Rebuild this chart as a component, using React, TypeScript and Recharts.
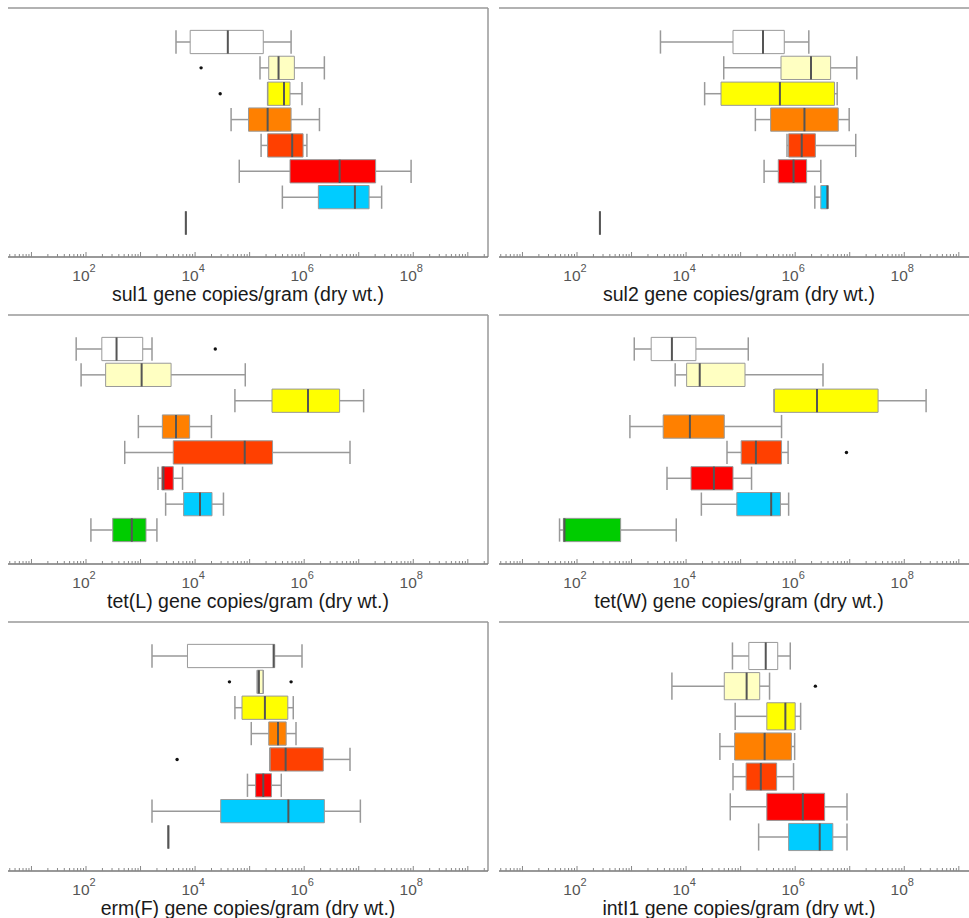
import { ComposedChart, XAxis, YAxis, ReferenceArea, ReferenceLine, Scatter } from 'recharts';

// all values are log10(gene copies / gram dry wt.)
// each row is one sample group: [min, q1, median, q3, max]
const GROUP_COLORS = ['#ffffff', '#ffffc2', '#ffff00', '#ff8000', '#ff4000', '#ff0000', '#00ccff', '#00cc00'];

const SUL1 = [
  [3.65, 3.91, 4.6, 5.25, 5.76],
  [5.19, 5.35, 5.53, 5.82, 6.37],
  [5.33, 5.33, 5.63, 5.74, 5.96],
  [4.66, 4.98, 5.33, 5.76, 6.28],
  [5.21, 5.33, 5.78, 5.98, 6.05],
  [4.81, 5.74, 6.65, 7.31, 7.96],
  [5.6, 6.26, 6.93, 7.19, 7.42],
  [3.83, 3.83, 3.83, 3.83, 3.83],
];
const SUL1_OUTLIERS = [[2, 4.11], [3, 4.46]];

const SUL2 = [
  [3.53, 4.86, 5.41, 5.8, 6.25],
  [4.69, 5.74, 6.29, 6.65, 7.13],
  [4.34, 4.64, 5.72, 6.72, 6.77],
  [5.27, 5.55, 6.17, 6.79, 6.99],
  [5.85, 5.88, 6.12, 6.37, 7.11],
  [5.43, 5.69, 5.97, 6.21, 6.47],
  [6.36, 6.47, 6.59, 6.6, 6.6],
  [2.42, 2.42, 2.42, 2.42, 2.42],
];
const SUL2_OUTLIERS: number[][] = [];

const TETL = [
  [1.82, 2.29, 2.56, 3.04, 3.21],
  [1.91, 2.36, 3.02, 3.56, 4.92],
  [4.73, 5.41, 6.07, 6.65, 7.09],
  [2.96, 3.4, 3.65, 3.9, 4.3],
  [2.71, 3.6, 4.91, 5.42, 6.84],
  [3.32, 3.39, 3.42, 3.6, 3.77],
  [3.46, 3.79, 4.09, 4.31, 4.52],
  [2.09, 2.49, 2.84, 3.1, 3.3],
];
const TETL_OUTLIERS = [[1, 4.37]];

const TETW = [
  [3.05, 3.36, 3.74, 4.18, 5.14],
  [3.8, 4.01, 4.25, 5.08, 6.51],
  [5.61, 5.62, 6.4, 7.52, 8.4],
  [2.97, 3.58, 4.07, 4.7, 5.75],
  [4.75, 5.01, 5.28, 5.75, 5.87],
  [3.65, 4.09, 4.51, 4.86, 5.2],
  [4.28, 4.93, 5.56, 5.73, 5.88],
  [1.68, 1.75, 1.77, 2.8, 3.82],
];
const TETW_OUTLIERS = [[5, 6.94]];

const ERMF = [
  [3.21, 3.86, 5.44, 5.46, 5.96],
  [5.14, 5.14, 5.17, 5.25, 5.25],
  [4.73, 4.86, 5.28, 5.7, 5.8],
  [5.03, 5.35, 5.52, 5.67, 5.85],
  [5.37, 5.37, 5.66, 6.35, 6.84],
  [4.96, 5.11, 5.25, 5.4, 5.58],
  [3.21, 4.47, 5.71, 6.37, 7.03],
  [3.51, 3.51, 3.51, 3.51, 3.51],
];
const ERMF_OUTLIERS = [[2, 4.63], [2, 5.76], [5, 3.67]];

const INTI1 = [
  [4.85, 5.15, 5.46, 5.68, 5.91],
  [3.74, 4.7, 5.11, 5.35, 5.53],
  [4.9, 5.48, 5.82, 6.0, 6.1],
  [4.62, 4.89, 5.44, 5.93, 5.99],
  [4.86, 5.1, 5.37, 5.66, 5.97],
  [4.81, 5.48, 6.14, 6.54, 6.95],
  [5.33, 5.88, 6.45, 6.69, 6.95],
];
const INTI1_OUTLIERS = [[2, 6.37]];

const LABELLED_EXPONENTS = [2, 4, 6, 8];

const X_MIN = 0.57;
const X_MAX = 9.37;
const LOG_TICKS: number[] = [];
for (let d = 0; d <= 9; d++) {
  for (let k = 1; k <= 9; k++) {
    const v = d + Math.log10(k);
    if (v >= X_MIN && v <= X_MAX) LOG_TICKS.push(v);
  }
}

const PANELS = [
  { title: 'sul1 gene copies/gram (dry wt.)', rows: SUL1, outliers: SUL1_OUTLIERS },
  { title: 'sul2 gene copies/gram (dry wt.)', rows: SUL2, outliers: SUL2_OUTLIERS },
  { title: 'tet(L) gene copies/gram (dry wt.)', rows: TETL, outliers: TETL_OUTLIERS },
  { title: 'tet(W) gene copies/gram (dry wt.)', rows: TETW, outliers: TETW_OUTLIERS },
  { title: 'erm(F) gene copies/gram (dry wt.)', rows: ERMF, outliers: ERMF_OUTLIERS },
  { title: 'intI1 gene copies/gram (dry wt.)', rows: INTI1, outliers: INTI1_OUTLIERS },
];

const FONT = '"Liberation Sans", Arial, sans-serif';
const CHART_W = 490;
const CHART_H = 307;
const PLOT_H = 249;
const EDGE_PAD = 34;
const HALF = 0.45;

function LogTick(props: any) {
  const { x, y, payload } = props;
  const v = payload.value;
  const exp = Math.round(v);
  const major = Math.abs(v - exp) < 1e-6;
  return (
    <g>
      <line x1={x} x2={x} y1={y} y2={y - (major ? 5 : 3)} stroke="#888" strokeWidth={1} />
      {major && LABELLED_EXPONENTS.includes(exp) && (
        <text x={x - 2} y={y + 24} textAnchor="middle" fill="#555" fontSize={15.5} fontFamily={FONT}>
          10<tspan dy={-9} fontSize={11}>{exp}</tspan>
        </text>
      )}
    </g>
  );
}

function BoxPanel({ title, rows, outliers }: { title: string; rows: number[][]; outliers: number[][] }) {
  const n = rows.length;
  const step = (PLOT_H - 2 * EDGE_PAD) / (n - 1);
  const pad = EDGE_PAD / step;
  const yDomain = [1 - pad, n + pad];
  const dots = outliers.map(([row, v]) => ({ x: v, y: row }));

  return (
    <ComposedChart width={CHART_W} height={CHART_H} margin={{ top: 8, right: 2, bottom: 0, left: 8 }} style={{ fontFamily: FONT }}>
      <XAxis
        type="number"
        dataKey="x"
        domain={[X_MIN, X_MAX]}
        allowDataOverflow
        ticks={LOG_TICKS}
        interval={0}
        tick={<LogTick />}
        tickLine={false}
        tickSize={0}
        tickMargin={0}
        height={50}
        axisLine={{ stroke: '#777', strokeWidth: 1.5 }}
        label={{ value: title, position: 'insideBottom', offset: 6, fill: '#1a1a1a', fontSize: 19.5, fontFamily: FONT }}
      />
      <YAxis
        type="number"
        dataKey="y"
        domain={yDomain}
        allowDataOverflow
        reversed
        ticks={[(n + 1) / 2]}
        tick={false}
        tickSize={3}
        tickLine={{ stroke: '#888' }}
        width={0}
        axisLine={{ stroke: '#999', strokeWidth: 1.5 }}
      />
      <ReferenceLine y={yDomain[0]} stroke="#999" strokeWidth={1.5} ifOverflow="visible" />
      <ReferenceLine x={X_MAX} stroke="#999" strokeWidth={1.5} ifOverflow="visible" />

      {rows.map(([min, q1, med, q3, max], i) => {
        const r = i + 1;
        return [
          <ReferenceLine key={`wl${i}`} segment={[{ x: min, y: r }, { x: q1, y: r }]} stroke="#999" strokeWidth={1.5} ifOverflow="visible" />,
          <ReferenceLine key={`wh${i}`} segment={[{ x: q3, y: r }, { x: max, y: r }]} stroke="#999" strokeWidth={1.5} ifOverflow="visible" />,
          <ReferenceLine key={`cl${i}`} segment={[{ x: min, y: r - HALF }, { x: min, y: r + HALF }]} stroke="#999" strokeWidth={1.5} ifOverflow="visible" />,
          <ReferenceLine key={`ch${i}`} segment={[{ x: max, y: r - HALF }, { x: max, y: r + HALF }]} stroke="#999" strokeWidth={1.5} ifOverflow="visible" />,
          <ReferenceArea key={`b${i}`} x1={q1} x2={q3} y1={r - HALF} y2={r + HALF} fill={GROUP_COLORS[i]} fillOpacity={1} stroke="#999" strokeWidth={1} ifOverflow="visible" />,
          <ReferenceLine key={`m${i}`} segment={[{ x: med, y: r - HALF }, { x: med, y: r + HALF }]} stroke="#555" strokeWidth={2} ifOverflow="visible" />,
        ];
      })}

      <Scatter
        data={dots}
        isAnimationActive={false}
        shape={(p: any) => <circle cx={p.cx} cy={p.cy} r={1.7} fill="#111" />}
      />
    </ComposedChart>
  );
}

export default function App() {
  return (
    <div style={{ position: 'absolute', left: 0, top: 0, width: 969, height: 918, overflow: 'hidden', background: '#fff' }}>
      {PANELS.map((p, i) => (
        <div key={p.title} style={{ position: 'absolute', left: i % 2 === 0 ? 0 : 491, top: Math.floor(i / 2) * CHART_H }}>
          <BoxPanel title={p.title} rows={p.rows} outliers={p.outliers} />
        </div>
      ))}
    </div>
  );
}
